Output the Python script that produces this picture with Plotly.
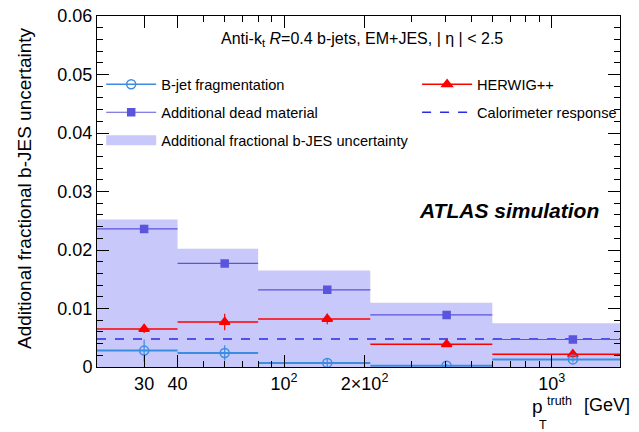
import plotly.graph_objects as go
import math

# ---- data ----
bin_edges = [20, 40, 80, 210, 600, 1800]
bin_centers = [30, 60, 145, 405, 1200]
total_band = [0.0252, 0.0202, 0.0165, 0.0110, 0.0075]
dead_material = [0.0236, 0.0177, 0.0132, 0.0089, 0.0047]
dead_material_err = [0.0007, 0.0004, 0.0003, 0.0003, 0.0003]
herwig = [0.0065, 0.0077, 0.0082, 0.0039, 0.0022]
herwig_err = [0.0007, 0.0014, 0.0009, 0.0004, 0.0005]
fragmentation = [0.0028, 0.0024, 0.0007, 0.0002, 0.0013]
fragmentation_err = [0.0019, 0.0013, 0.0007, 0.0003, 0.0005]
calo_response = 0.0048

x_tick_vals = [30, 40, 100, 200, 1000]
x_tick_text = ["30", "40", "10<sup>2</sup>", "2×10<sup>2</sup>", "10<sup>3</sup>"]
x_minor_vals = [20, 50, 60, 70, 80, 90, 300, 400, 500, 600, 700, 800, 900]
y_tick_vals = [0, 0.01, 0.02, 0.03, 0.04, 0.05, 0.06]
y_tick_text = ["0", "0.01", "0.02", "0.03", "0.04", "0.05", "0.06"]

FONT = "Liberation Sans, Arial, sans-serif"
c_frag = "#3b8de0"
c_dead = "#5a55dc"
c_herw = "#ff0000"
c_calo = "#2a2ae8"
c_band = "rgb(200,200,250)"

err_plus = [bin_edges[i + 1] - bin_centers[i] for i in range(len(bin_centers))]
err_minus = [bin_centers[i] - bin_edges[i] for i in range(len(bin_centers))]

fig = go.Figure()

# band
fig.add_trace(go.Scatter(
    x=bin_edges, y=total_band + [total_band[-1]],
    mode="lines", line=dict(width=0, shape="hv", color=c_band),
    fill="tozeroy", fillcolor=c_band, showlegend=False,
))

# calorimeter response
fig.add_trace(go.Scatter(
    x=[bin_edges[0], bin_edges[-1]], y=[calo_response, calo_response],
    mode="lines", line=dict(color=c_calo, width=1.5, dash="dash"),
    showlegend=False,
))

def series(y, err, color, symbol, size, lw=1.5):
    return go.Scatter(
        x=bin_centers, y=y, mode="markers",
        marker=dict(symbol=symbol, size=size, color=color,
                    line=dict(color=color, width=1.5)),
        error_x=dict(type="data", symmetric=False, array=err_plus,
                     arrayminus=err_minus, width=0, thickness=lw, color=color),
        error_y=dict(type="data", array=err, width=0, thickness=1.2, color=color),
        showlegend=False,
    )

fig.add_trace(series(dead_material, dead_material_err, c_dead, "square", 7, lw=1.2))
fig.add_trace(series(herwig, herwig_err, c_herw, "triangle-up", 9))
fig.add_trace(series(fragmentation, fragmentation_err, c_frag, "circle-open", 9, lw=2))

# legend entries
def leg(name, mode, color, symbol, size, legend, group, dash="solid", lw=1.5):
    return go.Scatter(
        x=[None], y=[None], mode=mode, name=name,
        line=dict(color=color, width=lw, dash=dash),
        marker=dict(symbol=symbol, size=size, color=color, line=dict(color=color, width=1.5)),
        legend=legend, legendgroup=group,
    )

fig.add_trace(leg("B-jet fragmentation", "lines+markers", c_frag, "circle-open", 9, "legend", "g1"))
fig.add_trace(leg("Additional dead material", "lines+markers", c_dead, "square", 7, "legend", "g2", lw=1.2))
fig.add_trace(go.Scatter(
    x=[None], y=[None], mode="lines", name="Additional fractional b-JES uncertainty",
    line=dict(color=c_band, width=20), legend="legend", legendgroup="g3",
))
fig.add_trace(leg("HERWIG++", "lines+markers", c_herw, "triangle-up", 9, "legend2", "h1"))
fig.add_trace(leg("Calorimeter response", "lines", c_calo, "circle", 1, "legend2", "h2", dash="dash"))

# page body has an 8px margin: compensate so the plot lands where the reference has it
fig.update_layout(
    width=631, height=424,
    margin=dict(l=89, r=19, t=8, b=65, autoexpand=False),
    paper_bgcolor="white", plot_bgcolor="white",
    font=dict(family=FONT, size=18, color="black"),
    legend=dict(x=0.008, y=0.851, xanchor="left", yanchor="top",
                bgcolor="rgba(0,0,0,0)", font=dict(size=14.6),
                tracegroupgap=6, itemwidth=50, traceorder="grouped"),
    legend2=dict(x=0.612, y=0.851, xanchor="left", yanchor="top",
                 bgcolor="rgba(0,0,0,0)", font=dict(size=14.6),
                 tracegroupgap=6, itemwidth=50, traceorder="grouped"),
    showlegend=True,
)

fig.update_xaxes(
    type="log", range=[math.log10(bin_edges[0]), math.log10(bin_edges[-1])],
    tickmode="array", tickvals=x_tick_vals, ticktext=x_tick_text,
    ticks="inside", ticklen=12, tickwidth=1, tickcolor="black",
    minor=dict(tickmode="array", tickvals=x_minor_vals, ticks="inside",
               ticklen=6, tickcolor="black"),
    showline=True, linecolor="black", linewidth=1, mirror="allticks",
    showgrid=False, zeroline=False, tickfont=dict(size=18), automargin=False,
    ticklabeloverflow="allow",
)
fig.update_yaxes(
    range=[0, 0.06], tickmode="array", tickvals=y_tick_vals, ticktext=y_tick_text,
    ticks="inside", ticklen=12, tickwidth=1, tickcolor="black",
    minor=dict(dtick=0.002, ticks="inside", ticklen=6, tickcolor="black"),
    showline=True, linecolor="black", linewidth=1, mirror="allticks",
    showgrid=False, zeroline=False, tickfont=dict(size=18), automargin=False,
    ticklabeloverflow="allow",
)

# plot area on page: x 97..620, y 16..367
PX0, PW, PY0, PH = 97, 523, 367, 351
def px(x):
    return (x - PX0) / PW
def py(y):
    return (PY0 - y) / PH

ann = []
ann.append(dict(text="Additional fractional b-JES uncertainty", textangle=-90,
                xref="paper", yref="paper", x=px(24), y=py(188),
                xanchor="center", yanchor="middle", showarrow=False,
                font=dict(size=19)))
ann.append(dict(text="Anti-k<sub>t</sub> <i>R</i>=0.4 b-jets, EM+JES, | η | &lt; 2.5",
                xref="paper", yref="paper", x=px(362), y=py(40),
                xanchor="center", yanchor="middle", showarrow=False,
                font=dict(size=16)))
ann.append(dict(text="<b><i>ATLAS simulation</i></b>",
                xref="paper", yref="paper", x=px(601), y=py(210),
                xanchor="right", yanchor="middle", showarrow=False,
                font=dict(size=21)))
# x-axis title: p_T^truth [GeV]
ann.append(dict(text="p", xref="paper", yref="paper",
                x=px(530), y=py(407),
                xanchor="left", yanchor="middle", showarrow=False, font=dict(size=19)))
ann.append(dict(text="truth", xref="paper", yref="paper",
                x=px(545), y=py(401),
                xanchor="left", yanchor="middle", showarrow=False, font=dict(size=12.5)))
ann.append(dict(text="T", xref="paper", yref="paper",
                x=px(537), y=py(425),
                xanchor="left", yanchor="middle", showarrow=False, font=dict(size=12.5)))
ann.append(dict(text="[GeV]", xref="paper", yref="paper",
                x=px(582), y=py(405),
                xanchor="left", yanchor="middle", showarrow=False, font=dict(size=18)))
fig.update_layout(annotations=ann)

fig.write_html("out.html")
